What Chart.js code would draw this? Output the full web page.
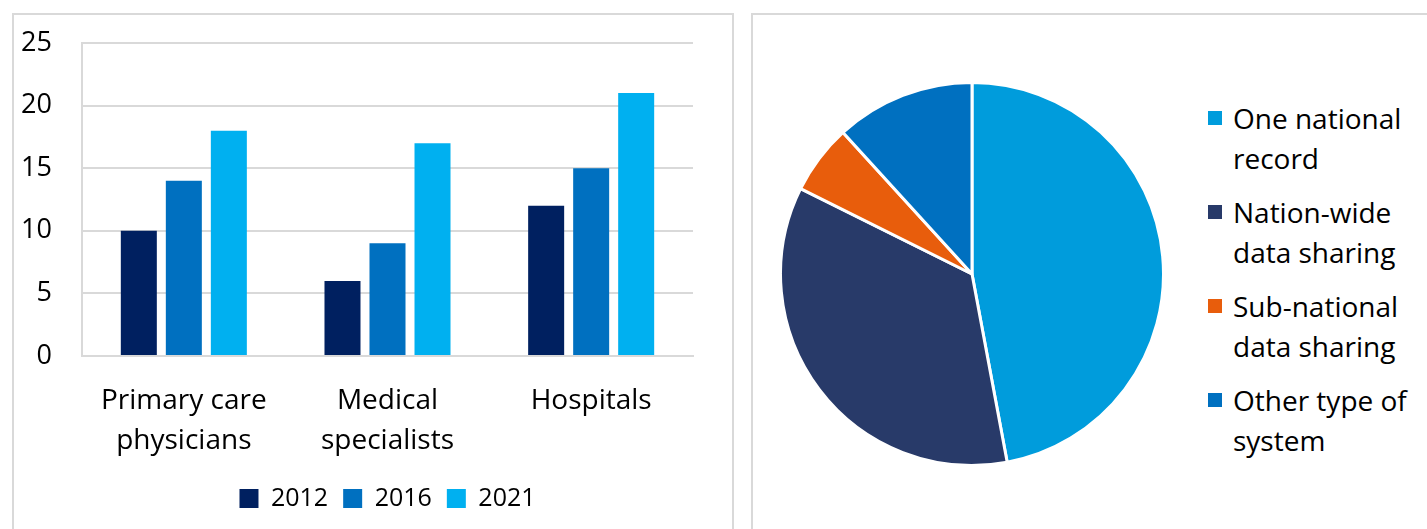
<!DOCTYPE html>
<html>
<head>
<meta charset="utf-8">
<script src="https://cdn.jsdelivr.net/npm/chart.js@4/dist/chart.umd.min.js"></script>
<style>
  body { margin: 0; background: #fff; width: 1427px; height: 529px; overflow: hidden; position: relative; font-family: "Open Sans", sans-serif; }
  .panel { position: absolute; top: 13px; height: 600px; border: 2px solid #d9d9d9; box-sizing: border-box; }
  #left { left: 12px; width: 722px; }
  #right { left: 751px; width: 720px; }
  #bars { position: absolute; left: 0; top: 0; }
  #pie { position: absolute; left: 779px; top: 81px; }
  #pieLegend { position: absolute; left: 1208px; top: 98px; color: #000; font-size: 28px; line-height: 40px; }
  #pieLegend .item { position: relative; padding-left: 25px; margin-bottom: 14px; }
  #pieLegend .box { position: absolute; left: 0; top: 13px; width: 14px; height: 14px; }
</style>
</head>
<body>
<div class="panel" id="left"></div>
<div class="panel" id="right"></div>
<canvas id="bars" width="740" height="529"></canvas>
<canvas id="pie" width="386" height="386"></canvas>
<div id="pieLegend"></div>
<script>
// bar chart: share of countries by setting and year
const categories = [['Primary care', 'physicians'], ['Medical', 'specialists'], 'Hospitals'];
const years = ['2012', '2016', '2021'];
const values2012 = [10, 6, 12];
const values2016 = [14, 9, 15];
const values2021 = [18, 17, 21];
const yTicks = [0, 5, 10, 15, 20, 25];

// pie chart: type of system
const pieLabels = [['One national', 'record'], ['Nation-wide', 'data sharing'], ['Sub-national', 'data sharing'], ['Other type of', 'system']];
const pieValues = [8, 6, 1, 2];

const barColors = ['#002060', '#0070c0', '#00b0f0'];
const pieColors = ['#009cdc', '#283a69', '#e85d0c', '#0070c0'];

Chart.defaults.font.family = '"Open Sans", sans-serif';
Chart.defaults.color = '#000';

const series = [values2012, values2016, values2021];

new Chart(document.getElementById('bars').getContext('2d'), {
  type: 'bar',
  data: {
    labels: categories,
    datasets: years.map((y, i) => ({
      label: y,
      data: series[i],
      backgroundColor: barColors[i],
      categoryPercentage: 0.663,
      barPercentage: 0.8
    }))
  },
  options: {
    responsive: false,
    animation: false,
    devicePixelRatio: 1,
    layout: { padding: { left: 0, top: 43, right: 47, bottom: 8 } },
    scales: {
      y: {
        min: 0,
        max: 25,
        afterBuildTicks: s => { s.ticks = yTicks.map(v => ({ value: v })); },
        // fixed axis width; the wide tick padding should not push the plot down
        afterFit: s => { s.width = 82; s.paddingTop = 0; },
        ticks: { padding: 30, font: { size: 27 } },
        grid: { color: '#d9d9d9', lineWidth: 2, drawTicks: false },
        border: { color: '#d9d9d9', width: 2 }
      },
      x: {
        afterFit: s => { s.height = 115; },
        ticks: { padding: 25, font: { size: 28, lineHeight: 1.43 }, maxRotation: 0 },
        grid: { display: false, drawTicks: false },
        border: { color: '#d9d9d9', width: 2 }
      }
    },
    plugins: {
      legend: {
        position: 'bottom',
        fullSize: false,
        labels: { boxWidth: 19, boxHeight: 19, padding: 15, font: { size: 25 } }
      },
      tooltip: { enabled: false }
    }
  }
});

const pieChart = new Chart(document.getElementById('pie').getContext('2d'), {
  type: 'pie',
  data: {
    labels: pieLabels,
    datasets: [{
      data: pieValues,
      backgroundColor: pieColors,
      borderColor: '#fff',
      borderWidth: 3
    }]
  },
  options: {
    responsive: false,
    animation: false,
    devicePixelRatio: 1,
    plugins: { legend: { display: false }, tooltip: { enabled: false } }
  }
});

// legend for the pie, one block per slice
const legendEl = document.getElementById('pieLegend');
pieChart.data.labels.forEach((lines, i) => {
  const item = document.createElement('div');
  item.className = 'item';
  const box = document.createElement('span');
  box.className = 'box';
  box.style.background = pieColors[i];
  item.appendChild(box);
  lines.forEach(t => {
    const line = document.createElement('div');
    line.textContent = t;
    item.appendChild(line);
  });
  legendEl.appendChild(item);
});
</script>
</body>
</html>
